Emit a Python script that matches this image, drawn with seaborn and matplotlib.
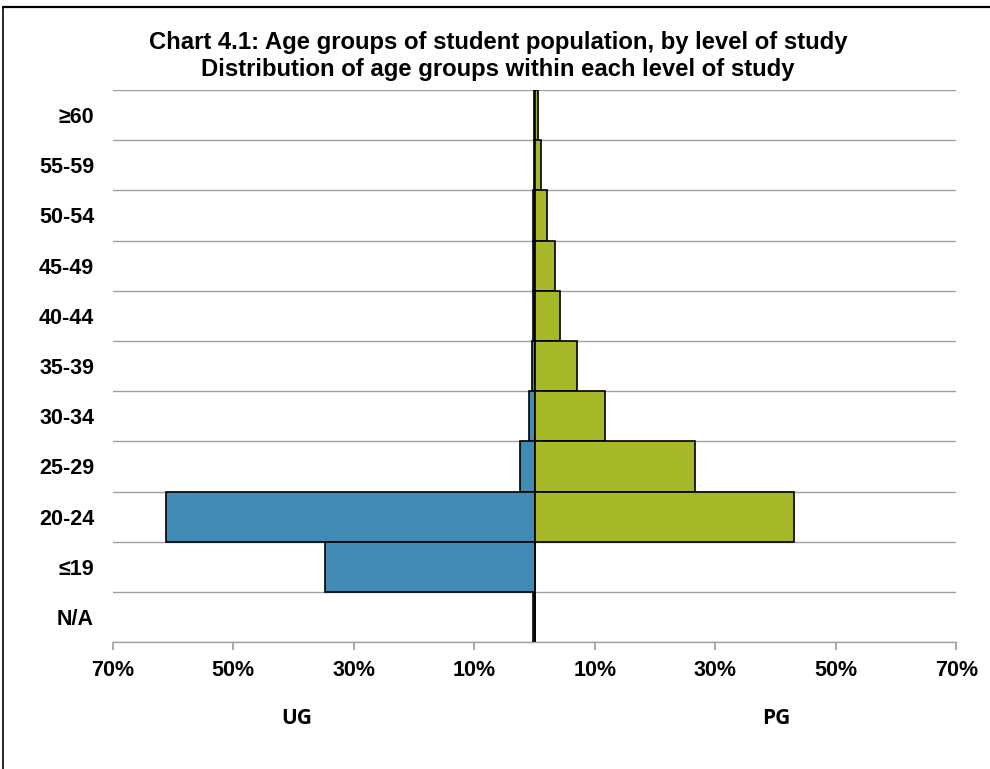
import matplotlib
matplotlib.use("Agg")
import matplotlib.pyplot as plt
import seaborn as sns
import pandas as pd
from matplotlib.ticker import FixedLocator, FuncFormatter
from matplotlib.lines import Line2D

sns.set_theme(style="white")
plt.rcParams['font.family'] = ['Liberation Sans', 'DejaVu Sans']
plt.rcParams['text.color'] = 'black'
plt.rcParams['xtick.color'] = 'black'
plt.rcParams['ytick.color'] = 'black'

age_groups = ["≥60", "55-59", "50-54", "45-49", "40-44", "35-39", "30-34", "25-29", "20-24", "≤19", "N/A"]
ug_pct = [0.1, 0.1, 0.2, 0.2, 0.2, 0.4, 0.9, 2.4, 61.2, 34.8, 0.2]
pg_pct = [0.6, 1.1, 2.1, 3.4, 4.2, 7.1, 11.7, 26.7, 43.1, 0.0, 0.1]
x_ticks = [-70, -50, -30, -10, 10, 30, 50, 70]
title_1 = "Chart 4.1: Age groups of student population, by level of study"
title_2 = "Distribution of age groups within each level of study"

df = pd.DataFrame({"age": age_groups, "UG": [-v for v in ug_pct], "PG": pg_pct})

fig = plt.figure(figsize=(9.9, 7.69), dpi=100)
ax = fig.add_axes([0.114, 0.165, 0.852, 0.718])

sns.barplot(data=df, y="age", x="UG", order=age_groups, color="#418AB3",
            saturation=1, width=1.0, edgecolor="black", linewidth=1.2, ax=ax, orient="h")
sns.barplot(data=df, y="age", x="PG", order=age_groups, color="#A6B727",
            saturation=1, width=1.0, edgecolor="black", linewidth=1.2, ax=ax, orient="h")

ax.set_xlim(-70, 70)
ax.set_ylim(len(age_groups) - 0.5, -0.5)
ax.xaxis.set_major_locator(FixedLocator(x_ticks))
ax.xaxis.set_major_formatter(FuncFormatter(lambda v, p: f"{abs(int(round(v)))}%"))
ax.yaxis.set_minor_locator(FixedLocator([i - 0.5 for i in range(len(age_groups) + 1)]))
ax.grid(which="minor", axis="y", color="#A0A0A0", linewidth=1.0)
ax.set_axisbelow(True)
for s in ["top", "right", "left"]:
    ax.spines[s].set_visible(False)
ax.spines["bottom"].set_color("#A0A0A0")
ax.spines["bottom"].set_linewidth(1.0)
ax.tick_params(axis="x", which="major", bottom=True, length=6, color="#A0A0A0",
               labelcolor="black", labelsize=15.5, pad=7)
ax.tick_params(axis="y", which="both", left=False, labelcolor="black", labelsize=15.5, pad=7.5)
for lbl in ax.get_xticklabels() + ax.get_yticklabels():
    lbl.set_fontweight("bold")
ax.set_xlabel("")
ax.set_ylabel("")

fig.text(0.503, 0.945, title_1, ha="center", va="center", fontsize=17.2, fontweight="bold")
fig.text(0.503, 0.910, title_2, ha="center", va="center", fontsize=17.2, fontweight="bold")
fig.text(0.300, 0.066, "UG", ha="center", va="center", fontsize=15,
         fontweight="bold", family=["Open Sans", "DejaVu Sans"])
fig.text(0.784, 0.066, "PG", ha="center", va="center", fontsize=15,
         fontweight="bold", family=["Open Sans", "DejaVu Sans"])

fig.lines.append(Line2D([0.0035, 0.0035], [0.0, 0.991], transform=fig.transFigure,
                        color="black", linewidth=1.2))
fig.lines.append(Line2D([0.0035, 1.0], [0.991, 0.991], transform=fig.transFigure,
                        color="black", linewidth=1.6))

fig.savefig("out.png", dpi=100)
